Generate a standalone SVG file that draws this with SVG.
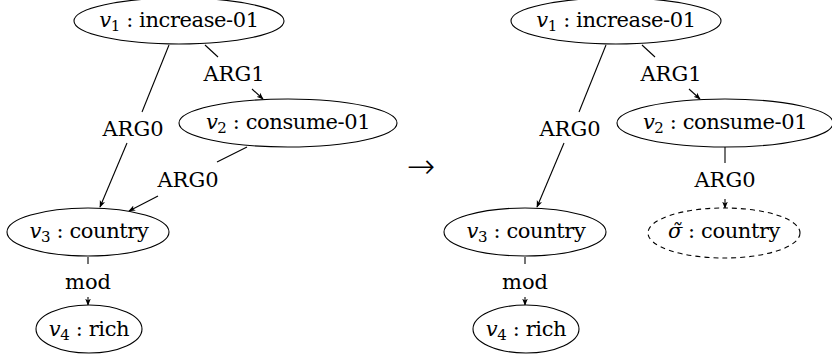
<svg xmlns="http://www.w3.org/2000/svg" width="832" height="360" viewBox="0 0 832 360">
  <style>
    .t { font-family: 'DejaVu Serif', serif; font-size: 21px; fill: #000; text-anchor: middle; }
    .n { letter-spacing: -0.4px; }
    .it { font-style: italic; }
    .sub { font-size: 15px; }
    .arrow { font-family: 'DejaVu Sans', sans-serif; font-size: 34px; font-weight: 200; fill: #000; text-anchor: middle; }
    .node { fill: #fff; stroke: #000; stroke-width: 1.1; }
    .dash { stroke-dasharray: 5 4; }
    .edge { fill: none; stroke: #000; stroke-width: 1.1; }
  </style>
  <defs>
    <marker id="tip" viewBox="0 0 10 10" refX="9" refY="5" markerWidth="7" markerHeight="7" markerUnits="userSpaceOnUse" orient="auto">
      <path d="M0,1 L10,5 L0,9 L2.5,5 Z" fill="#000"/>
    </marker>
  </defs>
  <rect width="832" height="360" fill="#fff"/>

  <!-- edges: each edge is drawn as a segment leaving the source and an arrowed segment into the target, with the label in between -->
  <g id="edges">
    <!-- left graph -->
    <line class="edge" x1="169" y1="45" x2="142" y2="112"/>
    <line class="edge" x1="127" y1="143" x2="100" y2="207" marker-end="url(#tip)"/>
    <line class="edge" x1="205" y1="45" x2="218" y2="57"/>
    <line class="edge" x1="252" y1="89" x2="263" y2="99" marker-end="url(#tip)"/>
    <line class="edge" x1="247" y1="147" x2="217" y2="162"/>
    <line class="edge" x1="158" y1="196" x2="129" y2="211" marker-end="url(#tip)"/>
    <line class="edge" x1="88" y1="257" x2="88" y2="264"/>
    <line class="edge" x1="88" y1="297" x2="88" y2="305" marker-end="url(#tip)"/>
    <!-- right graph -->
    <line class="edge" x1="606" y1="45" x2="579" y2="112"/>
    <line class="edge" x1="564" y1="143" x2="537" y2="207" marker-end="url(#tip)"/>
    <line class="edge" x1="642" y1="45" x2="655" y2="57"/>
    <line class="edge" x1="689" y1="89" x2="700" y2="99" marker-end="url(#tip)"/>
    <line class="edge" x1="725" y1="147" x2="725" y2="163"/>
    <line class="edge" x1="725" y1="199" x2="725" y2="208" marker-end="url(#tip)"/>
    <line class="edge" x1="525" y1="257" x2="525" y2="264"/>
    <line class="edge" x1="525" y1="297" x2="525" y2="305" marker-end="url(#tip)"/>

    <!-- edge labels -->
    <text class="t" x="234" y="81">ARG1</text>
    <text class="t" x="133" y="136">ARG0</text>
    <text class="t" x="188" y="187">ARG0</text>
    <text class="t" x="88" y="289">mod</text>
    <text class="t" x="671" y="81">ARG1</text>
    <text class="t" x="570" y="136">ARG0</text>
    <text class="t" x="725" y="187">ARG0</text>
    <text class="t" x="525" y="289">mod</text>
  </g>

  <!-- transformation arrow between the two graphs -->
  <text id="maps-to" class="arrow" x="421" y="178">→</text>

  <!-- left graph nodes -->
  <g id="L-v1">
    <ellipse class="node" cx="179" cy="21" rx="105" ry="23"/>
    <text class="t n" x="179" y="27"><tspan class="it">v</tspan><tspan class="sub" dy="4">1</tspan><tspan dy="-4"> : increase-01</tspan></text>
  </g>
  <g id="L-v2">
    <ellipse class="node" cx="288" cy="123" rx="109" ry="24"/>
    <text class="t n" x="288" y="129"><tspan class="it">v</tspan><tspan class="sub" dy="4">2</tspan><tspan dy="-4"> : consume-01</tspan></text>
  </g>
  <g id="L-v3">
    <ellipse class="node" cx="88" cy="232" rx="81" ry="24"/>
    <text class="t n" x="89" y="238"><tspan class="it">v</tspan><tspan class="sub" dy="4">3</tspan><tspan dy="-4"> : country</tspan></text>
  </g>
  <g id="L-v4">
    <ellipse class="node" cx="89" cy="329" rx="53" ry="24"/>
    <text class="t n" x="89" y="336"><tspan class="it">v</tspan><tspan class="sub" dy="4">4</tspan><tspan dy="-4"> : rich</tspan></text>
  </g>

  <!-- right graph nodes -->
  <g id="R-v1">
    <ellipse class="node" cx="616" cy="21" rx="105" ry="23"/>
    <text class="t n" x="616" y="27"><tspan class="it">v</tspan><tspan class="sub" dy="4">1</tspan><tspan dy="-4"> : increase-01</tspan></text>
  </g>
  <g id="R-v2">
    <ellipse class="node" cx="725" cy="123" rx="108" ry="24"/>
    <text class="t n" x="725" y="129"><tspan class="it">v</tspan><tspan class="sub" dy="4">2</tspan><tspan dy="-4"> : consume-01</tspan></text>
  </g>
  <g id="R-v3">
    <ellipse class="node" cx="525" cy="232" rx="81" ry="24"/>
    <text class="t n" x="526" y="238"><tspan class="it">v</tspan><tspan class="sub" dy="4">3</tspan><tspan dy="-4"> : country</tspan></text>
  </g>
  <g id="R-v4">
    <ellipse class="node" cx="526" cy="329" rx="53" ry="24"/>
    <text class="t n" x="526" y="336"><tspan class="it">v</tspan><tspan class="sub" dy="4">4</tspan><tspan dy="-4"> : rich</tspan></text>
  </g>
  <g id="R-sigma">
    <ellipse class="node dash" cx="724" cy="233" rx="76" ry="25"/>
    <text class="t n" x="724" y="238"><tspan class="it">σ̃</tspan> : country</text>
  </g>
</svg>
